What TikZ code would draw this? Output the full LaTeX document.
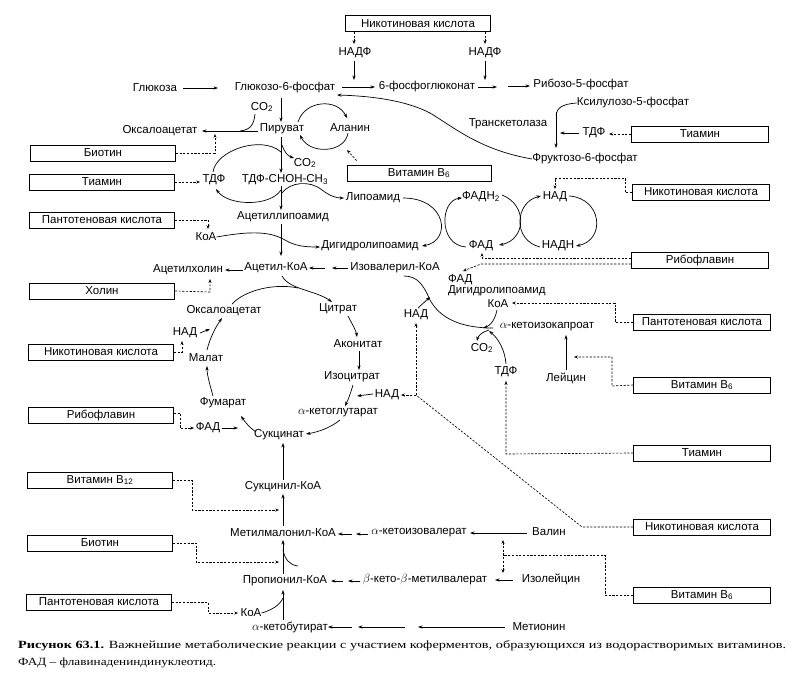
\documentclass[tikz,border=0pt]{standalone}
\usepackage{fontspec}
\setmainfont{Liberation Sans}
\newfontfamily\capf{Liberation Serif}
\usetikzlibrary{arrows.meta}
\newcommand\lsz{\fontsize{11.5}{13}\selectfont}
\begin{document}
\begin{tikzpicture}[x=1pt,y=-1pt,
  lbl/.style={inner sep=0pt, font=\lsz},
  vbox/.style={draw, line width=0.7pt, minimum height=16pt, inner sep=0pt, font=\lsz, fill=white},
  lb/.style={vbox, minimum width=145pt},
  rb/.style={vbox, minimum width=137pt},
  ar/.style={-{Stealth[length=4.5pt,width=3.2pt]}, line width=0.7pt},
  ln/.style={line width=0.7pt},
  dsh/.style={dash pattern=on 2.2pt off 1.5pt, line width=0.65pt},
  dar/.style={dsh, -{Stealth[length=3.8pt,width=3pt]}}]
\useasboundingbox (0,0) rectangle (804,691);
\fill[white] (0,0) rectangle (804,691);
% ---------- top ----------
\node[lb] (nic1) at (418,23.5) {Никотиновая кислота};
\node[lbl] (nadp1) at (355,53) {НАДФ};
\node[lbl] (nadp2) at (485,53) {НАДФ};
\node[lbl] (gluc) at (155,88) {Глюкоза};
\node[lbl] (g6p) at (285,88) {Глюкозо-6-фосфат};
\node[lbl] (pg6) at (427,87) {6-фосфоглюконат};
\node[lbl] (r5p) at (581,84) {Рибозо-5-фосфат};
\node[lbl] (xu5p) at (633,103) {Ксилулозо-5-фосфат};
\node[lbl] (transk) at (508,124) {Транскетолаза};
\node[lbl] (tdp1) at (594,133) {ТДФ};
\node[rb] (thi1) at (700,134) {Тиамин};
\node[lbl] (f6p) at (585,159) {Фруктозо-6-фосфат};
\coordinate (j1) at (354,44);
\coordinate (j2) at (485,44);
\draw[dar] (nic1.south -| j1) -- (j1);
\draw[dar] (nic1.south -| j2) -- (j2);
\draw[ar] (nadp1.south) ++(-1,3) -- (354,80);
\draw[ar] (nadp2.south) ++(0,3) -- (485,80);
\draw[ar] (183,88) -- (218,88);
\draw[ar] (342,87) -- (375,87);
\draw[ar] (478,87) -- (497,87);
\draw[ar] (508,86) -- (530,86);
\draw[ln] (xu5p.west) .. controls (562,104) and (557,108) .. (556,115);
\draw[ar] (556,112) -- (556,148);
\draw[ar] (tdp1.west) ++(-3,0) -- (560,133);
\draw[dar] (thi1.west) -- (609,134);
\draw[ar] (f6p.west) .. controls (480,150) and (455,128) .. (430,113) .. controls (405,100) and (370,96) .. (337,95);
% ---------- pyruvate ----------
\node[lbl] (co2a) at (262,107) {CO\textsubscript{2}};
\node[lbl] (oaa1) at (160,131) {Оксалоацетат};
\node[lbl] (pyr) at (282,129) {Пируват};
\node[lbl] (ala) at (350,128) {Аланин};
\node[lb] (bio1) at (103,153) {Биотин};
\node[lb] (thi2) at (102,182) {Тиамин};
\node[lbl] (tdp2) at (214,180) {ТДФ};
\node[lbl] (co2b) at (305,163) {CO\textsubscript{2}};
\node[lbl] (tdpc) at (285,180) {ТДФ-CHOH-CH\textsubscript{3}};
\node[vbox, minimum width=144pt] (b6a) at (419,173) {Витамин B\textsubscript{6}};
\node[lbl] (lipo) at (373,198) {Липоамид};
\node[lbl] (alipo) at (283,217) {Ацетиллипоамид};
\node[lb] (pant1) at (102,220) {Пантотеновая кислота};
\node[lbl] (coa1) at (206,237) {КоА};
\node[lbl] (dhl1) at (370,246) {Дигидролипоамид};
\draw[ar] (281,98) -- (281,122);
\draw[ar] (258,131) -- (202,131);
\draw[ln] (255,114) .. controls (254,125) and (250,130) .. (240,131);
\draw[dar] (bio1.east) -- (215,153) -- (215,134);
\draw[dar] (thi2.east) -- (200,182);
\draw[ln] (213,172) .. controls (216,150) and (262,135) .. (281,152);
\draw[ar] (281,190) .. controls (270,207) and (228,206) .. (216,189);
\draw[ar] (281,137) -- (281,173);
\draw[ar] (282,145) .. controls (284,152) and (288,156) .. (294,158);
\draw[ar] (298,122) .. controls (305,100) and (337,98) .. (347,118);
\draw[ar] (348,133) .. controls (345,153) and (310,155) .. (300,135);
\draw[dar] (b6a.north west) ++(10,-4) -- (347,150);
\draw[ar] (281,186) -- (281,210);
\draw[ar] (282,193) .. controls (290,182) and (310,180) .. (322,190) .. controls (330,196) and (336,198) .. (344,198);
\draw[ar] (281,224) -- (281,256);
\draw[ar] (coa1.east) .. controls (245,232) and (268,230) .. (285,240) .. controls (295,246) and (305,247) .. (320,247);
\draw[dar] (pant1.east) -- (208,220) -- (208,229);
% ---------- lipoamide / FAD / NAD ----------
\node[lbl] (fadh2) at (481,197) {ФАДН\textsubscript{2}};
\node[lbl] (fad1) at (481,246) {ФАД};
\node[lbl] (nad3) at (555,197) {НАД};
\node[lbl] (nadh) at (558,246) {НАДН};
\node[rb] (nic2) at (701,192) {Никотиновая кислота};
\node[rb] (ribo1) at (700,260) {Рибофлавин};
\draw[ar] (403,198) .. controls (447,198) and (452,241) .. (422,246);
\draw[ar] (466,247) .. controls (438,245) and (440,200) .. (462,198);
\draw[ar] (502,195) .. controls (528,205) and (526,240) .. (499,245);
\draw[ar] (540,247) .. controls (512,240) and (515,202) .. (541,196);
\draw[ar] (569,196) .. controls (602,198) and (606,240) .. (576,246);
\draw[dar] (nic2.west) -- (625,192) -- (625,178) -- (555,178) -- (555,189);
\draw[dar] (ribo1.west |- 0,258) -- (482,258) -- (482,253);
\draw[dar] (ribo1.west |- 0,264) -- (481,264) -- (463,271);
% ---------- acetyl-CoA / leucine ----------
\node[lbl] (acoa) at (276,268) {Ацетил-КоА};
\node[lbl] (achol) at (188,270) {Ацетилхолин};
\node[lbl] (ival) at (395,268) {Изовалерил-КоА};
\node[lb] (chol) at (102,291) {Холин};
\node[lbl, anchor=west] (fad2) at (448,280) {ФАД};
\node[lbl, anchor=west] (dhl2) at (448,291) {Дигидролипоамид};
\node[lbl] (coa2) at (498,304) {КоА};
\node[rb] (pant2) at (702,322) {Пантотеновая кислота};
\node[lbl] (kic) at (547,327) {$\alpha$-кетоизокапроат};
\node[lbl] (nad2) at (416,315) {НАД};
\node[lbl] (co2c) at (482,348) {CO\textsubscript{2}};
\node[lbl] (tdp3) at (506,372) {ТДФ};
\node[lbl] (leu) at (566,378) {Лейцин};
\node[rb] (b6b) at (702,385) {Витамин B\textsubscript{6}};
\node[rb] (thi3) at (702,453) {Тиамин};
\draw[ar] (325,268) -- (309,268);
\draw[ar] (348,268) -- (332,268);
\draw[ar] (243,270) -- (225,270);
\draw[dar] (chol.east) -- (210,292) -- (210,279);
\draw[ln] (493,328) .. controls (460,328) and (440,318) .. (430,300) .. controls (424,286) and (418,276) .. (404,276);
\draw[ar] (418,308) -- (430,297);
\draw[ar] (497,310) .. controls (495,320) and (490,326) .. (483,328);
\draw[ar] (489,330) .. controls (482,332) and (478,336) .. (477,341);
\draw[ar] (506,364) .. controls (505,350) and (498,338) .. (489,331);
\draw[dar] (pant2.west) -- (615,322) -- (615,303) -- (512,303);
\draw[ar] (566,370) -- (566,335);
\draw[dar] (b6b.west) -- (612,386) -- (612,357) -- (574,357);
\draw[dar] (thi3.west) -- (506,454) -- (506,381);
% ---------- TCA ----------
\node[lbl] (oaa2) at (224,311) {Оксалоацетат};
\node[lbl] (cit) at (338,309) {Цитрат};
\node[lbl] (acon) at (358,344) {Аконитат};
\node[lbl] (icit) at (352,377) {Изоцитрат};
\node[lbl] (akg) at (338,413) {$\alpha$-кетоглутарат};
\node[lbl] (nad4) at (387,395) {НАД};
\node[lbl] (succ) at (279,435) {Сукцинат};
\node[lbl] (fum) at (223,403) {Фумарат};
\node[lbl] (mal) at (206,358) {Малат};
\node[lbl] (nad1) at (185,333) {НАД};
\node[lb] (nicl) at (101,352) {Никотиновая кислота};
\node[lbl] (fadr) at (208,428) {ФАД};
\node[lb] (ribo2) at (101,415) {Рибофлавин};
\node[rb] (nic3) at (702,527) {Никотиновая кислота};
\draw[ar] (282,276) .. controls (290,290) and (315,290) .. (332,302);
\draw[ln] (232,304) .. controls (245,290) and (275,283) .. (298,288);
\draw[ar] (348,316) .. controls (352,324) and (356,330) .. (357,337);
\draw[ar] (359,351) -- (359,370);
\draw[ar] (353,385) .. controls (350,395) and (348,400) .. (345,406);
\draw[ar] (373,394) -- (357,396);
\draw[ar] (340,420) .. controls (330,428) and (318,432) .. (306,434);
\coordinate (nj) at (416,395);
\draw[dsh] (nic3.west) -- (582,527) -- (nj);
\draw[dar] (nj) -- (401,395);
\draw[dar] (nj) -- (416,323);
\draw[ar] (256,432) .. controls (250,428) and (245,422) .. (241,416);
\draw[ar] (222,428) -- (238,428);
\draw[dar] (ribo2.east |- 0,413) -- (180,413) -- (180,428) -- (194,428);
\draw[ar] (213,396) .. controls (210,385) and (207,375) .. (207,366);
\draw[ar] (207,350) .. controls (210,338) and (215,328) .. (222,318);
\draw[ar] (200,333) -- (210,329);
\draw[dar] (nicl.east) -- (182,352) -- (182,341);
% ---------- bottom ----------
\node[lb] (b12) at (100,480) {Витамин B\textsubscript{12}};
\node[lbl] (succoa) at (283,487) {Сукцинил-КоА};
\node[lb] (bio2) at (100,543) {Биотин};
\node[lbl] (mmcoa) at (283,533) {Метилмалонил-КоА};
\node[lbl] (kiv) at (419,533) {$\alpha$-кетоизовалерат};
\node[lbl] (val) at (549,532) {Валин};
\node[lbl] (propcoa) at (285,581) {Пропионил-КоА};
\node[lbl] (kmv) at (425,580) {$\beta$-кето-$\beta$-метилвалерат};
\node[lbl] (ile) at (551,579) {Изолейцин};
\node[rb] (b6c) at (702,595) {Витамин B\textsubscript{6}};
\node[lb] (pant3) at (99,602) {Пантотеновая кислота};
\node[lbl] (coa3) at (251,613) {КоА};
\node[lbl] (akb) at (290,627) {$\alpha$-кетобутират};
\node[lbl] (met) at (539,627) {Метионин};
\draw[ar] (283,480) -- (283,443);
\draw[ar] (283,526) -- (283,494);
\draw[dar] (b12.east) -- (192,480) -- (192,510) -- (279,510);
\draw[ar] (352,534) -- (338,534);
\draw[ar] (368,534) -- (356,534);
\draw[ar] (527,533) -- (470,533);
\draw[ar] (283,574) -- (283,540);
\draw[ln] (283,550) .. controls (285,560) and (290,565) .. (298,566);
\draw[dar] (bio2.east) -- (196,543) -- (196,562) -- (279,562);
\draw[ar] (343,581) -- (331,581);
\draw[ar] (360,581) -- (348,581);
\draw[ar] (513,580) -- (495,580);
\draw[dsh, {Stealth[length=3.8pt,width=3pt]}-{Stealth[length=3.8pt,width=3pt]}] (503,540) -- (503,573);
\draw[dsh] (b6c.west) -- (605,595) -- (605,555) -- (503,555);
\draw[ar] (283,620) -- (283,590);
\draw[ln] (coa3.east) .. controls (272,610) and (280,605) .. (283,598);
\draw[dar] (pant3.east) -- (208,602) -- (208,613) -- (238,613);
\draw[ar] (352,627) -- (328,627);
\draw[ar] (405,627) -- (358,627);
\draw[ar] (505,627) -- (418,627);
% ---------- caption ----------
\node[anchor=west, inner sep=0pt] (cap1) at (18,646) {\resizebox{768pt}{\height}{\capf\fontsize{11}{13}\selectfont\textbf{Рисунок 63.1.} Важнейшие метаболические реакции с участием коферментов, образующихся из водорастворимых витаминов.}};
\node[anchor=west, inner sep=0pt] (cap2) at (18,663) {\resizebox{198pt}{\height}{\capf\fontsize{11}{13}\selectfont ФАД – флавинадениндинуклеотид.}};
\end{tikzpicture}
\end{document}
